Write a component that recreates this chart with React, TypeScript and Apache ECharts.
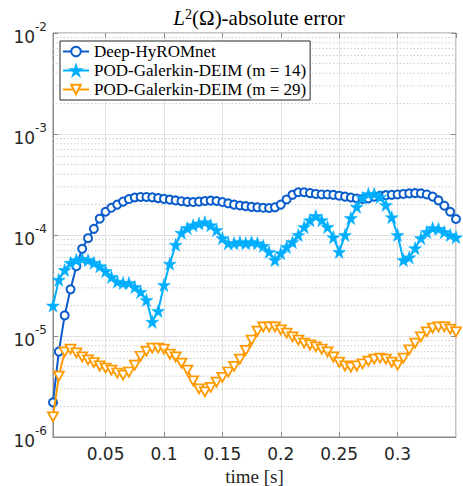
import React, { useEffect, useRef } from "react";
import * as echarts from "echarts";

const time = [
  0.005, 0.01, 0.015, 0.02, 0.025, 0.03, 0.035, 0.04, 0.045, 0.05,
  0.055, 0.06, 0.065, 0.07, 0.075, 0.08, 0.085, 0.09, 0.095, 0.1,
  0.105, 0.11, 0.115, 0.12, 0.125, 0.13, 0.135, 0.14, 0.145, 0.15,
  0.155, 0.16, 0.165, 0.17, 0.175, 0.18, 0.185, 0.19, 0.195, 0.2,
  0.205, 0.21, 0.215, 0.22, 0.225, 0.23, 0.235, 0.24, 0.245, 0.25,
  0.255, 0.26, 0.265, 0.27, 0.275, 0.28, 0.285, 0.29, 0.295, 0.3,
  0.305, 0.31, 0.315, 0.32, 0.325, 0.33, 0.335, 0.34, 0.345, 0.35,
];

const deepHyROMnet = [
  2.2e-6, 7.0e-6, 1.6e-5, 2.9e-5, 4.9e-5, 7.3e-5, 9.3e-5, 1.15e-4, 1.45e-4, 1.7e-4,
  1.86e-4, 2.0e-4, 2.14e-4, 2.27e-4, 2.35e-4, 2.38e-4, 2.38e-4, 2.36e-4, 2.32e-4, 2.28e-4,
  2.24e-4, 2.2e-4, 2.16e-4, 2.13e-4, 2.12e-4, 2.14e-4, 2.17e-4, 2.19e-4, 2.17e-4, 2.12e-4,
  2.06e-4, 2.0e-4, 1.96e-4, 1.93e-4, 1.9e-4, 1.88e-4, 1.86e-4, 1.85e-4, 1.88e-4, 2.0e-4,
  2.25e-4, 2.5e-4, 2.65e-4, 2.65e-4, 2.6e-4, 2.55e-4, 2.52e-4, 2.52e-4, 2.5e-4, 2.45e-4,
  2.4e-4, 2.35e-4, 2.3e-4, 2.27e-4, 2.3e-4, 2.4e-4, 2.45e-4, 2.48e-4, 2.5e-4, 2.52e-4,
  2.55e-4, 2.58e-4, 2.6e-4, 2.58e-4, 2.52e-4, 2.4e-4, 2.2e-4, 1.95e-4, 1.7e-4, 1.44e-4,
];

const podDeim14 = [
  2.0e-5, 3.6e-5, 4.5e-5, 5.3e-5, 5.65e-5, 5.8e-5, 5.65e-5, 5.3e-5, 4.9e-5, 4.4e-5,
  3.84e-5, 3.45e-5, 3.35e-5, 3.35e-5, 3.05e-5, 2.73e-5, 2.27e-5, 1.38e-5, 1.77e-5, 3.2e-5,
  5.2e-5, 8.0e-5, 1.05e-4, 1.17e-4, 1.25e-4, 1.3e-4, 1.34e-4, 1.25e-4, 1.12e-4, 9.3e-5,
  8.3e-5, 8.3e-5, 8.5e-5, 8.3e-5, 8.5e-5, 8.3e-5, 7.8e-5, 6.8e-5, 5.65e-5, 6.6e-5,
  7.6e-5, 8.5e-5, 1.0e-4, 1.2e-4, 1.4e-4, 1.54e-4, 1.4e-4, 1.2e-4, 9.5e-5, 6.8e-5,
  1.0e-4, 1.47e-4, 1.9e-4, 2.33e-4, 2.55e-4, 2.55e-4, 2.38e-4, 1.98e-4, 1.5e-4, 1.0e-4,
  5.65e-5, 6.0e-5, 7.4e-5, 9.3e-5, 1.07e-4, 1.17e-4, 1.15e-4, 1.07e-4, 1.0e-4, 9.5e-5,
];

const podDeim29 = [
  1.58e-6, 4.0e-6, 6.95e-6, 7.4e-6, 6.8e-6, 6.2e-6, 5.8e-6, 5.45e-6, 5.05e-6, 4.8e-6,
  4.6e-6, 4.3e-6, 4.1e-6, 4.4e-6, 5.15e-6, 6.3e-6, 7.1e-6, 7.6e-6, 7.6e-6, 7.4e-6,
  6.6e-6, 6.2e-6, 5.4e-6, 4.6e-6, 3.6e-6, 3.0e-6, 2.8e-6, 3.1e-6, 3.5e-6, 3.9e-6,
  4.4e-6, 5.0e-6, 5.9e-6, 7.2e-6, 9.1e-6, 1.12e-5, 1.23e-5, 1.23e-5, 1.23e-5, 1.15e-5,
  1.07e-5, 9.8e-6, 9.1e-6, 8.5e-6, 8.15e-6, 7.8e-6, 7.4e-6, 6.95e-6, 6.2e-6, 5.5e-6,
  5.05e-6, 4.93e-6, 5.05e-6, 5.3e-6, 5.65e-6, 5.9e-6, 6.05e-6, 5.9e-6, 5.5e-6, 5.15e-6,
  6.05e-6, 7.3e-6, 8.5e-6, 9.8e-6, 1.1e-5, 1.2e-5, 1.23e-5, 1.23e-5, 1.17e-5, 1.1e-5,
];

const seriesNames = [
  "Deep-HyROMnet",
  "POD-Galerkin-DEIM (m = 14)",
  "POD-Galerkin-DEIM (m = 29)",
];

const xRange = [0.005, 0.35];
const yDecades = [1e-6, 1e-5, 1e-4, 1e-3];
const minorFactors = [2, 3, 4, 5, 6, 7, 8, 9];

const STAR =
  "path://M0,-10L2.25,-3.09L9.51,-3.09L3.63,1.18L5.88,8.09L0,3.82L-5.88,8.09L-3.63,1.18L-9.51,-3.09L-2.25,-3.09Z";
const TRI_DOWN = "path://M-5,-4.33L5,-4.33L0,4.33Z";

const BLUE = "#0a5ccc";
const CYAN = "#00aeff";
const ORANGE = "#ff9a00";
const AXIS_GRAY = "#8a8a8a";
const TEXT = "#262626";
const SERIF = "'Liberation Serif', 'Times New Roman', serif";
const SANS = "'DejaVu Sans', sans-serif";

export default function App() {
  const ref = useRef<HTMLDivElement>(null);
  useEffect(() => {
    if (!ref.current) return;
    const chart = echarts.init(ref.current, null, { renderer: "svg" });
    const pair = (ys: number[]) => time.map((t, i) => [t, ys[i]]);
    const minorValues: number[] = [];
    yDecades.forEach((d) => minorFactors.forEach((f) => minorValues.push(f * d)));

    const minorSeries = minorValues.map((v) => ({
      type: "line",
      data: [[xRange[0], v], [xRange[1], v]],
      symbol: "none",
      silent: true,
      z: 1,
      lineStyle: { type: [1.5, 2], color: "#cccccc", width: 1 },
      emphasis: { disabled: true },
      tooltip: { show: false },
    }));

    chart.setOption({
      animation: false,
      backgroundColor: "#fff",
      title: {
        text: "{it|L}{sup|2}{n|(Ω)-absolute error}",
        left: 254,
        top: 2,
        textAlign: "center",
        textStyle: {
          fontWeight: "normal",
          fontFamily: SERIF,
          rich: {
            it: { fontFamily: SERIF, fontStyle: "italic", fontWeight: "normal", fontSize: 21, color: "#000", verticalAlign: "bottom" },
            sup: { fontFamily: SERIF, fontWeight: "normal", fontSize: 14, color: "#000", verticalAlign: "top" },
            n: { fontFamily: SERIF, fontWeight: "normal", fontSize: 21, color: "#000", verticalAlign: "bottom" },
          },
        },
      },
      grid: {
        left: 53,
        top: 33,
        right: 7,
        bottom: 49,
        show: true,
        borderColor: AXIS_GRAY,
        borderWidth: 1,
        containLabel: false,
        outerBoundsMode: "none",
      },
      legend: {
        data: seriesNames,
        orient: "vertical",
        left: 60,
        top: 41,
        itemWidth: 26,
        itemHeight: 12,
        itemGap: 2,
        padding: [2, 4, 2, 2],
        backgroundColor: "#fff",
        borderColor: TEXT,
        borderWidth: 1,
        formatter: (name: string) => `{t|${name}}`,
        textStyle: {
          fontFamily: SERIF,
          fontSize: 17,
          color: "#000",
          rich: { t: { fontFamily: SERIF, fontSize: 17, color: "#000", lineHeight: 18 } },
        },
      },
      xAxis: [
        {
          type: "value",
          min: xRange[0],
          max: xRange[1],
          splitNumber: 7,
          name: "{t|time [s]}",
          nameLocation: "middle",
          nameGap: 30,
          nameTextStyle: { fontFamily: SERIF, fontSize: 19, color: TEXT, rich: { t: { fontFamily: SERIF, fontSize: 19, color: TEXT } } },
          axisLine: { show: true, lineStyle: { color: AXIS_GRAY } },
          axisTick: { show: true, inside: true, length: 5, lineStyle: { color: AXIS_GRAY } },
          axisLabel: {
            showMinLabel: false,
            showMaxLabel: false,
            margin: 8,
            fontFamily: SANS,
            fontSize: 17,
            color: TEXT,
            formatter: (v: number) => String(Math.round(v * 1000) / 1000),
          },
          splitLine: { show: true, lineStyle: { color: "#e2e2e2", width: 1 } },
        },
        {
          type: "value",
          position: "top",
          min: xRange[0],
          max: xRange[1],
          splitNumber: 7,
          axisLine: { show: false },
          axisTick: { show: true, inside: true, length: 5, lineStyle: { color: AXIS_GRAY } },
          axisLabel: { show: false },
          splitLine: { show: false },
        },
      ],
      yAxis: [
        {
          type: "log",
          logBase: 10,
          min: 1e-6,
          max: 1e-2,
          axisLine: { show: true, lineStyle: { color: AXIS_GRAY } },
          axisTick: { show: true, inside: true, length: 5, lineStyle: { color: AXIS_GRAY } },
          axisLabel: {
            margin: 6,
            formatter: (v: number) => `{b|10}{e|${Math.round(Math.log10(v))}}`,
            rich: {
              b: { fontFamily: SANS, fontSize: 17, color: TEXT, verticalAlign: "bottom", padding: [8, 0, 0, 0] },
              e: { fontFamily: SANS, fontSize: 12, color: TEXT, verticalAlign: "top" },
            },
          },
          splitLine: { show: true, lineStyle: { color: "#e2e2e2", width: 1 } },
        },
        {
          type: "log",
          logBase: 10,
          min: 1e-6,
          max: 1e-2,
          position: "right",
          axisLine: { show: false },
          axisTick: { show: true, inside: true, length: 5, lineStyle: { color: AXIS_GRAY } },
          axisLabel: { show: false },
          splitLine: { show: false },
        },
      ],
      series: [
        ...minorSeries,
        {
          name: seriesNames[0],
          type: "line",
          data: pair(deepHyROMnet),
          symbol: "emptyCircle",
          symbolSize: 8,
          lineStyle: { color: BLUE, width: 2 },
          itemStyle: { color: BLUE, borderColor: BLUE, borderWidth: 1.8 },
          z: 3,
        },
        {
          name: seriesNames[1],
          type: "line",
          data: pair(podDeim14),
          symbol: STAR,
          symbolSize: 13,
          lineStyle: { color: CYAN, width: 2 },
          itemStyle: { color: CYAN, borderColor: CYAN, borderWidth: 0.5 },
          z: 4,
        },
        {
          name: seriesNames[2],
          type: "line",
          data: pair(podDeim29),
          symbol: TRI_DOWN,
          symbolSize: [10, 9],
          lineStyle: { color: ORANGE, width: 2 },
          itemStyle: { color: "#fff", borderColor: ORANGE, borderWidth: 1.8 },
          z: 5,
        },
      ],
    });
    return () => chart.dispose();
  }, []);
  return <div ref={ref} style={{ width: 463, height: 486, position: "absolute", left: 0, top: 0 }} />;
}
